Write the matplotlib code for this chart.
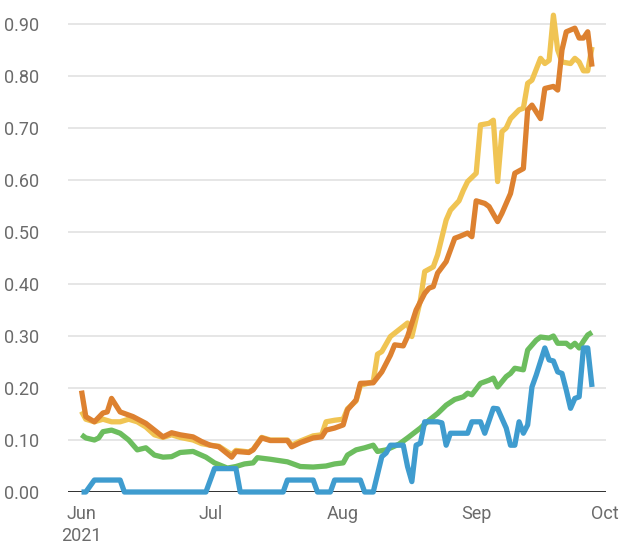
import pandas as pd
import matplotlib.pyplot as plt
import matplotlib.dates as mdates

plt.rcParams['font.family'] = ['Roboto', 'DejaVu Sans']

# Data (dates as month/day, 2021)
orange_dates = ["6/1", "6/2", "6/4", "6/6", "6/7", "6/8", "6/10", "6/12", "6/13", "6/16",
                "6/18", "6/20", "6/22", "6/24", "6/27", "6/29", "7/1", "7/3", "7/6", "7/7",
                "7/10", "7/11", "7/13", "7/15", "7/19", "7/20", "7/22", "7/25", "7/27", "7/28",
                "7/30", "8/1", "8/2", "8/4", "8/5", "8/8", "8/10", "8/12", "8/13", "8/15",
                "8/16", "8/18", "8/20", "8/21", "8/22", "8/23", "8/25", "8/27", "8/28", "8/30",
                "8/31", "9/1", "9/3", "9/4", "9/6", "9/7", "9/9", "9/10", "9/12", "9/13",
                "9/14", "9/16", "9/17", "9/19", "9/20", "9/21", "9/22", "9/24", "9/25", "9/26",
                "9/27", "9/28"]
orange_vals = [0.195, 0.145, 0.135, 0.152, 0.154, 0.18, 0.154, 0.148, 0.145, 0.132,
               0.119, 0.106, 0.114, 0.11, 0.106, 0.097, 0.09, 0.087, 0.067, 0.078,
               0.076, 0.081, 0.104, 0.099, 0.099, 0.087, 0.095, 0.104, 0.106, 0.119,
               0.123, 0.129, 0.158, 0.177, 0.209, 0.21, 0.231, 0.263, 0.283, 0.281,
               0.299, 0.35, 0.382, 0.392, 0.395, 0.421, 0.443, 0.488, 0.491, 0.498,
               0.491, 0.56, 0.555, 0.549, 0.52, 0.536, 0.574, 0.613, 0.622, 0.735,
               0.744, 0.718, 0.776, 0.78, 0.773, 0.85, 0.885, 0.892, 0.873, 0.873,
               0.885, 0.818]

yellow_dates = ["6/1", "6/2", "6/4", "6/6", "6/8", "6/10", "6/12", "6/14", "6/16", "6/18",
                "6/20", "6/22", "6/24", "6/27", "6/29", "7/1", "7/3", "7/6", "7/7", "7/10",
                "7/11", "7/13", "7/15", "7/19", "7/20", "7/22", "7/25", "7/27", "7/28", "7/30",
                "8/1", "8/2", "8/4", "8/5", "8/8", "8/9", "8/10", "8/12", "8/14", "8/16",
                "8/17", "8/19", "8/20", "8/22", "8/23", "8/25", "8/26", "8/28", "8/29", "8/30",
                "9/1", "9/2", "9/4", "9/5", "9/6", "9/7", "9/8", "9/9", "9/11", "9/12",
                "9/13", "9/14", "9/16", "9/17", "9/18", "9/19", "9/20", "9/21", "9/23", "9/24",
                "9/25", "9/26", "9/27", "9/28"]
yellow_vals = [0.155, 0.14, 0.135, 0.14, 0.135, 0.135, 0.14, 0.135, 0.125, 0.11,
               0.105, 0.11, 0.105, 0.1, 0.093, 0.09, 0.088, 0.072, 0.08, 0.077,
               0.082, 0.105, 0.1, 0.1, 0.09, 0.098, 0.108, 0.11, 0.135, 0.138,
               0.14, 0.16, 0.175, 0.205, 0.212, 0.265, 0.27, 0.299, 0.312, 0.325,
               0.299, 0.369, 0.424, 0.433, 0.456, 0.523, 0.542, 0.56, 0.58, 0.597,
               0.613, 0.706, 0.709, 0.715, 0.597, 0.693, 0.70, 0.718, 0.735, 0.738,
               0.786, 0.792, 0.834, 0.824, 0.83, 0.917, 0.85, 0.827, 0.824, 0.834,
               0.827, 0.81, 0.81, 0.856]

green_dates = ["6/1", "6/2", "6/4", "6/5", "6/6", "6/8", "6/10", "6/12", "6/14", "6/16",
               "6/18", "6/20", "6/22", "6/24", "6/27", "6/30", "7/2", "7/5", "7/7", "7/9",
               "7/11", "7/12", "7/15", "7/19", "7/22", "7/25", "7/28", "7/30", "8/1", "8/2",
               "8/4", "8/6", "8/8", "8/9", "8/11", "8/14", "8/16", "8/19", "8/21", "8/23",
               "8/25", "8/27", "8/29", "8/30", "8/31", "9/2", "9/4", "9/5", "9/6", "9/8",
               "9/9", "9/10", "9/12", "9/13", "9/15", "9/16", "9/18", "9/19", "9/20", "9/22",
               "9/23", "9/24", "9/25", "9/26", "9/27", "9/28"]
green_vals = [0.11, 0.104, 0.10, 0.104, 0.116, 0.119, 0.113, 0.10, 0.081, 0.085,
              0.071, 0.067, 0.068, 0.076, 0.078, 0.067, 0.056, 0.046, 0.049, 0.054,
              0.056, 0.066, 0.063, 0.058, 0.049, 0.048, 0.05, 0.054, 0.056, 0.071,
              0.081, 0.085, 0.09, 0.078, 0.081, 0.092, 0.104, 0.123, 0.138, 0.151,
              0.167, 0.178, 0.183, 0.19, 0.187, 0.209, 0.215, 0.219, 0.202, 0.222,
              0.228, 0.238, 0.235, 0.273, 0.292, 0.298, 0.296, 0.30, 0.286, 0.286,
              0.279, 0.286, 0.277, 0.29, 0.302, 0.307]

blue_dates = ["6/1", "6/2", "6/4", "6/10", "6/11", "6/30", "7/2", "7/7", "7/8", "7/18",
              "7/19", "7/25", "7/26", "7/29", "7/30", "8/5", "8/6", "8/8", "8/10", "8/11",
              "8/12", "8/15", "8/16", "8/17", "8/18", "8/19", "8/20", "8/23", "8/24", "8/25",
              "8/26", "8/30", "8/31", "9/2", "9/3", "9/5", "9/6", "9/8", "9/9", "9/10",
              "9/11", "9/12", "9/13", "9/14", "9/15", "9/17", "9/18", "9/19", "9/20", "9/21",
              "9/22", "9/23", "9/24", "9/25", "9/26", "9/27", "9/28"]
blue_vals = [0, 0, 0.023, 0.023, 0, 0, 0.045, 0.045, 0, 0,
             0.023, 0.023, 0, 0, 0.023, 0.023, 0, 0, 0.068, 0.075,
             0.09, 0.09, 0.049, 0.02, 0.09, 0.094, 0.135, 0.135, 0.133, 0.09,
             0.113, 0.113, 0.135, 0.135, 0.113, 0.161, 0.16, 0.123, 0.09, 0.09,
             0.135, 0.113, 0.129, 0.202, 0.225, 0.277, 0.254, 0.252, 0.231, 0.228,
             0.196, 0.161, 0.18, 0.183, 0.277, 0.277, 0.202]

y_ticks = [0.0, 0.1, 0.2, 0.3, 0.4, 0.5, 0.6, 0.7, 0.8, 0.9]
month_ticks = ["2021-06-01", "2021-07-01", "2021-08-01", "2021-09-01", "2021-10-01"]
month_labels = ["Jun\n2021", "Jul", "Aug", "Sep", "Oct"]


def to_dates(days):
    return pd.to_datetime(["2021/" + d for d in days], format="%Y/%m/%d")


fig = plt.figure(figsize=(6.25, 5.46), dpi=100)
ax = fig.add_axes([0.1088, 0.0989, 0.8608, 0.8857])

line_kw = dict(linewidth=3.8, solid_joinstyle="round", solid_capstyle="butt", clip_on=False)
ax.plot(to_dates(yellow_dates), yellow_vals, color="#F0C453", zorder=3, **line_kw)
ax.plot(to_dates(orange_dates), orange_vals, color="#DD8130", zorder=4, **line_kw)
ax.plot(to_dates(green_dates), green_vals, color="#6CBD5E", zorder=5, **line_kw)
ax.plot(to_dates(blue_dates), blue_vals, color="#3F9CCF", zorder=6, **line_kw)

ax.set_ylim(0, 0.93)
x0 = pd.Timestamp("2021-06-01")
ax.set_xlim(x0 - pd.Timedelta(days=3.15), x0 + pd.Timedelta(days=122.26))

ax.set_yticks(y_ticks)
ax.set_yticklabels([f"{v:.2f}" for v in y_ticks])
ax.set_xticks(pd.to_datetime(month_ticks))
ax.set_xticklabels(month_labels)
for lbl in ax.get_xticklabels():
    lbl.set_linespacing(1.3)

ax.grid(axis="y", color="#e2e2e2", linewidth=1.2, zorder=0)
ax.grid(axis="x", visible=False)
ax.axhline(0, color="#222222", linewidth=1.3, zorder=2)
for s in ax.spines.values():
    s.set_visible(False)
ax.tick_params(axis="both", length=0, labelsize=13, colors="#6b6b6b")
ax.tick_params(axis="y", pad=21)
ax.tick_params(axis="x", pad=9)
ax.set_facecolor("white")

plt.savefig("out.png", dpi=100)
